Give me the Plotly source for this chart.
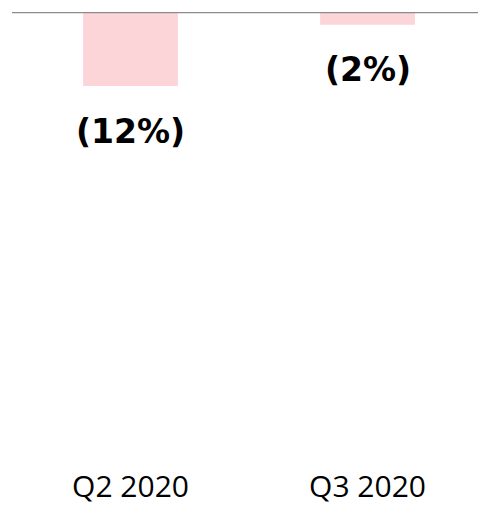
import plotly.graph_objects as go

categories = ["Q2 2020", "Q3 2020"]
values = [-12, -2]
labels = ["(12%)", "(2%)"]

fig = go.Figure()
fig.add_trace(go.Bar(
    x=categories, y=values, width=0.4,
    marker=dict(color="#FCD5D9", line=dict(width=0)),
    hoverinfo="skip",
))

for c, v, t in zip(categories, values, labels):
    fig.add_annotation(x=c, y=v, text=t, showarrow=False, yanchor="middle",
                       yshift=-45,
                       font=dict(family="DejaVu Sans", size=33, color="#000000", weight="bold"))

fig.add_shape(type="line", xref="paper", x0=0, x1=1, yref="y", y0=0, y1=0,
              line=dict(color="#8C8C8C", width=1.5), layer="above")

fig.update_layout(
    width=478, height=506,
    margin=dict(l=12, r=0, t=12, b=37),
    paper_bgcolor="white", plot_bgcolor="white",
    showlegend=False,
    hovermode=False,
    xaxis=dict(range=[-0.5, 1.466], showgrid=False, zeroline=False, showline=False,
               ticks="", tickfont=dict(family="Open Sans", size=30, color="#000000")),
    yaxis=dict(range=[-74.1, 0.1], visible=False, showgrid=False, zeroline=False),
)

fig.write_html("out.html",
               config={"displayModeBar": False, "staticPlot": True},
               post_script="document.body.style.margin='0px';document.documentElement.style.overflow='hidden';")
